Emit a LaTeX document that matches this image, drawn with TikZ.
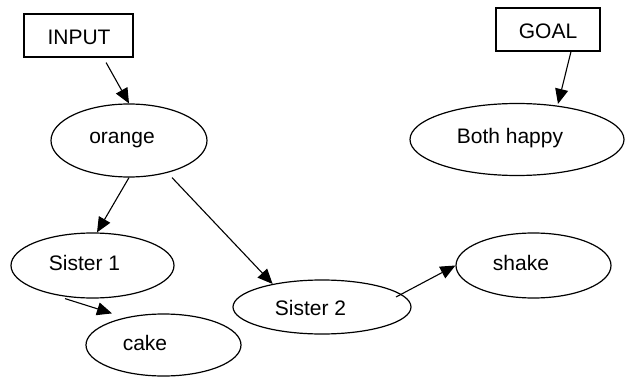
\documentclass[tikz,border=0pt]{standalone}
\usepackage{fontspec}
\setmainfont{Liberation Sans}
\usetikzlibrary{shapes.geometric,arrows.meta}
\tikzset{
  boxnode/.style={draw,line width=1.2pt,rectangle,inner sep=0pt},
  ellnode/.style={draw,line width=1.2pt,ellipse,inner sep=0pt},
  txt/.style={anchor=base,inner sep=0pt,font=\fontsize{21}{25}\selectfont},
  arr/.style={line width=1.1pt,-{Triangle[length=15pt,width=13pt]}}
}
\begin{document}
\begin{tikzpicture}[x=1pt,y=-1pt]
\useasboundingbox (0,0) rectangle (626,377);
% shapes
\node[boxnode,minimum width=109pt,minimum height=43pt] (input) at (78.5,35.5) {};
\node[boxnode,minimum width=104pt,minimum height=43pt] (goal) at (548,29.5) {};
\node[ellnode,minimum width=156pt,minimum height=73pt] (orange) at (129,140.5) {};
\node[ellnode,minimum width=214pt,minimum height=72pt] (both) at (517,139.5) {};
\node[ellnode,minimum width=163pt,minimum height=65pt] (sister1) at (92.5,265.5) {};
\node[ellnode,minimum width=155pt,minimum height=62pt] (cake) at (163.5,345) {};
\node[ellnode,minimum width=178pt,minimum height=54pt] (sister2) at (322,307) {};
\node[ellnode,minimum width=155pt,minimum height=65pt] (shake) at (533.5,265.5) {};
% texts
\node[txt] (tinput) at (79,45) {INPUT};
\node[txt] (tgoal) at (548,39) {GOAL};
\node[txt] (torange) at (122,143) {orange};
\node[txt] (tboth) at (510,143) {Both happy};
\node[txt] (tsister1) at (84.5,270) {Sister 1};
\node[txt] (tcake) at (145,350) {cake};
\node[txt] (tsister2) at (310.5,315.5) {Sister 2};
\node[txt] (tshake) at (521,270) {shake};
% connectors
\draw[arr,shorten <=5.7pt] ([xshift=24.8pt]input.south) -- (orange.north);
\draw[arr] ([xshift=23pt]goal.south) -- ([xshift=41pt,yshift=-1pt]both.north);
\draw[arr] (orange.south) -- ([xshift=4.5pt]sister1.north);
\draw[arr] ([xshift=43pt]orange.south) -- (sister2.155);
\draw[arr] ([xshift=-27.5pt]sister1.south) -- ([xshift=-51.5pt]cake.north);
\draw[arr] ([xshift=74pt,yshift=10pt]sister2.center) -- (shake.west);
\end{tikzpicture}
\end{document}
